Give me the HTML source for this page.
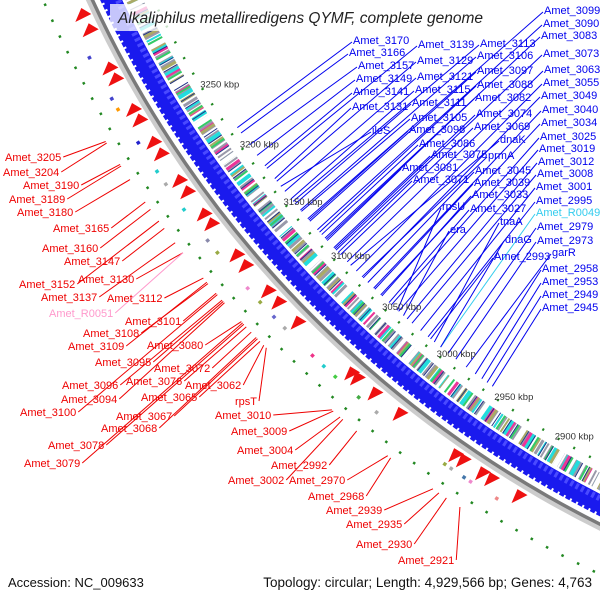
<!DOCTYPE html>
<html><head><meta charset="utf-8"><style>
html,body{margin:0;padding:0;background:#fff;width:600px;height:600px;overflow:hidden}
svg{display:block;overflow:hidden}
text{font-family:"Liberation Sans",sans-serif}
</style></head><body>
<svg id="map" width="600" height="600" viewBox="0 0 600 600" xmlns="http://www.w3.org/2000/svg">
<g id="rings"></g>
<g id="marks"></g>
<g id="lines"></g>
<g id="labels"></g>
<g id="ticks"></g>
<rect x="110" y="4" width="380" height="27" fill="#fff" fill-opacity="0.75"/>
<text x="118" y="23" font-size="15.5" font-style="italic" fill="#222">Alkaliphilus metalliredigens QYMF, complete genome</text>
<text x="8" y="587" font-size="13" fill="#111">Accession: NC_009633</text>
<text x="592" y="587" font-size="13.5" fill="#111" text-anchor="end">Topology: circular; Length: 4,929,566 bp; Genes: 4,763</text>
</svg>
<script>
// ---- data ----
const tickKbp = [3250,3200,3150,3100,3050,3000,2950,2900];
const redArrowKbp = [3327,3316,3288,3280,3257,3249,3232,3223,3202,3193,3175,3167,3141,3132,3110,3100,3082,3034,3029,3014,2993,2948,2942,2927,2920,2899];
const outerBarKbp = [3300,3270,3262,3237,3215,3205,3185,3160,3150,3120,3108,3095,3085,3060,3050,3040,3020,3005,2950,2945,2935,2930,2910];
const outerBarColor = ["#4444cc","#4444cc","#ff9900","#2222cc","#22cccc","#aaaaaa","#22cccc","#8888aa","#99aa44","#ee88cc","#99aa44","#6666cc","#aaaaaa","#ee3388","#22cccc","#44cc44","#44aa44","#aaaaaa","#99aa44","#aaaaaa","#4477aa","#ee88cc","#ee8888"];
const blueNames = ["Amet_3099","Amet_3090","Amet_3083","Amet_3073","Amet_3063","Amet_3055","Amet_3049","Amet_3040","Amet_3034","Amet_3025","Amet_3019","Amet_3012","Amet_3008","Amet_3001","Amet_2995","Amet_R0049","Amet_2979","Amet_2973","garR","Amet_2958","Amet_2953","Amet_2949","Amet_2945",
"Amet_3113","Amet_3106","Amet_3097","Amet_3088","Amet_3082","Amet_3074","Amet_3069","dnaK","prmA","Amet_3045","Amet_3039","Amet_3033","Amet_3027","tnaA","dnaG","Amet_2993",
"Amet_3139","Amet_3129","Amet_3121","Amet_3115","Amet_3111","Amet_3105","Amet_3098","Amet_3086","Amet_3075","Amet_3081","Amet_3071","rpsU","era","ileS",
"Amet_3170","Amet_3166","Amet_3157","Amet_3149","Amet_3141","Amet_3131"];
const blueGeneNo = [3099,3090,3083,3073,3063,3055,3049,3040,3034,3025,3019,3012,3008,3001,2995,2985,2979,2973,2965,2958,2953,2949,2945,
3113,3106,3097,3088,3082,3074,3069,3060,3050,3045,3039,3033,3027,2990,2985,2993,
3139,3129,3121,3115,3111,3105,3098,3086,3075,3081,3071,3020,3015,3125,
3170,3166,3157,3149,3141,3131];
const redNames = ["Amet_3205","Amet_3204","Amet_3190","Amet_3189","Amet_3180","Amet_3165","Amet_3160","Amet_3147","Amet_3152","Amet_3130","Amet_3137","Amet_3112","Amet_R0051","Amet_3101","Amet_3108","Amet_3109","Amet_3080","Amet_3095","Amet_3072","Amet_3096","Amet_3076","Amet_3062","Amet_3094","Amet_3065","rpsT","Amet_3100","Amet_3010","Amet_3067","Amet_3068","Amet_3009","Amet_3078","Amet_3004","Amet_3079","Amet_2992","Amet_3002","Amet_2970","Amet_2968","Amet_2939","Amet_2935","Amet_2930","Amet_2921"];
const redGeneNo = [3205,3204,3190,3189,3180,3165,3160,3147,3152,3130,3137,3112,3130,3101,3108,3109,3080,3095,3072,3096,3076,3062,3094,3065,3060,3100,3010,3067,3068,3009,3078,3004,3079,2992,3002,2970,2968,2939,2935,2930,2921];
// ---- layout (label anchor positions) ----
const blueLX = [544,543,541,543,544,543,541,542,541,540,539,538,537,536,536,536,537,537,552,542,542,542,542, 480,477,477,477,475,476,474,500,488,475,474,472,470,500,505,494, 418,417,417,415,412,411,409,419,431,402,413,442,450,372, 353,349,358,356,353,352];
const blueLY = [14,27,39,57,73,86,99,113,126,140,152,165,177,190,204,216,230,244,256,272,285,298,311, 47,59,74,88,101,117,130,143,159,174,186,198,212,225,243,260, 48,64,80,93,106,121,133,147,158,171,183,210,233,134, 44,56,69,82,95,110];
const redLX = [5,3,23,9,17,53,42,64,19,78,41,107,49,125,83,68,147,95,154,62,126,185,61,141,235,20,215,116,101,231,48,237,24,271,228,289,308,326,346,356,398];
const redLY = [161,176,189,203,216,232,252,265,288,283,301,302,317,325,337,350,349,366,372,389,385,389,403,401,405,416,419,420,432,435,449,454,467,469,484,484,500,514,528,548,564];

// ---- axis functions ----
const CX=1094, CY=-462;
function angOfKbp(k){return (121+(k-2900)*0.0789)*Math.PI/180;}
function angOfGene(n){return (123.2+(n-2921)*0.0894)*Math.PI/180;}
function pt(a,r){return [CX+r*Math.cos(a), CY+r*Math.sin(a)];}
const NS="http://www.w3.org/2000/svg";
function mk(tag,attrs,parent){const e=document.createElementNS(NS,tag);for(const k in attrs)e.setAttribute(k,attrs[k]);parent.appendChild(e);return e;}
const rings=document.getElementById('rings'), marks=document.getElementById('marks'), lines=document.getElementById('lines'), labels=document.getElementById('labels'), ticks=document.getElementById('ticks');

function ring(r,stroke,w,dash,off,name){
  // arc limited to the visible sector
  let a1=158*Math.PI/180;
  let a0=Math.max(Math.acos(Math.min(1,(596-CY)/r)) , 0); // angle where y hits ~596
  // a0 from sin: y=CY+r*sin(a) <= 596 -> choose angle > 90deg branch
  const s=(592-CY)/r;
  a0 = s>=1 ? 100*Math.PI/180 : Math.PI - Math.asin(s);
  const [x0,y0]=pt(a0,r), [x1,y1]=pt(a1,r);
  const c=mk('path',{d:`M${x0},${y0} A${r},${r} 0 0 1 ${x1},${y1}`,fill:'none',stroke:stroke,'stroke-width':w},rings);
  if(dash){c.setAttribute('stroke-dasharray',dash);c.setAttribute('stroke-dashoffset',off||0);}
  
  
}
// inner colored gene band
ring(1065,'#9999aa',16,'3 2 2 4',0,'gene-band-gray');
ring(1065,'#22dddd',16,'4 9 2 11',3,'gene-band-cyan');
ring(1065,'#ee3399',16,'3 17 2 23',7,'gene-band-pink');
ring(1065,'#aaaa66',16,'2 13 3 19',11,'gene-band-olive');
ring(1065,'#33cc66',16,'2 21 2 15',5,'gene-band-green');
ring(1065,'#223388',16,'1 7 1 12',2,'gene-band-navy');
ring(1065,'#fff',17,'5 40',0,'gene-band-gaps');
// blue arrow band
ring(1086,'#1a1aee',20,null,0,'blue-arrow-band');
ring(1080,'#4a4aff',6,'3 3',0,'blue-arrow-texture');
ring(1095,'#fff',3,'2 5',1,'blue-arrow-edge');
// backbone
ring(1106,'#cccccc',6,null,0,'backbone-shadow');
ring(1103,'#7a7a7a',3.5,null,0,'backbone-line');
// green dot tracks
ring(1048,'#228822',2.5,'2 16',0,'inner-green-track');
ring(1148,'#228822',2.5,'2.5 15',4,'outer-green-track');

// red arrows
redArrowKbp.forEach((k,i)=>{
  const a=angOfKbp(k); const [x,y]=pt(a,1118);
  const p=mk('polygon',{points:`${x-8},${y+6} ${x+8},${y-2} ${x-2},${y-8}`,fill:'#ee1111'},marks);
  
  
});
// outer bars
outerBarKbp.forEach((k,i)=>{
  const a=angOfKbp(k); const a2=a+0.003;
  const [x1,y1]=pt(a,1131), [x2,y2]=pt(a2,1131);
  const l=mk('line',{x1:x1,y1:y1,x2:x2,y2:y2,stroke:outerBarColor[i],'stroke-width':3.5},marks);
  
  
});
// ticks
tickKbp.forEach(k=>{
  const [x,y]=pt(angOfKbp(k),1047);
  const t=mk('text',{x:x,y:y+4,'font-size':9.5,fill:'#333'},ticks);
  t.textContent=k+' kbp';
  
  
});
// blue labels
blueNames.forEach((n,i)=>{
  const col = n==='Amet_R0049' ? '#33ccee' : '#0000ee';
  const t=mk('text',{x:blueLX[i],y:blueLY[i],'font-size':11,fill:col},labels);
  t.textContent=n;
  
  
  const [x,y]=pt(angOfGene(blueGeneNo[i]),1040);
  const l=mk('line',{x1:blueLX[i]-1,y1:blueLY[i]-2,x2:x,y2:y,stroke:col,'stroke-width':1},lines);
  
  
});
// red labels
redNames.forEach((n,i)=>{
  const col = n==='Amet_R0051' ? '#ff99cc' : '#ee0000';
  const t=mk('text',{x:redLX[i],y:redLY[i],'font-size':11,fill:col},labels);
  t.textContent=n;
  
  
  const w=t.getComputedTextLength();
  const [x,y]=pt(angOfGene(redGeneNo[i]),1158);
  const l=mk('line',{x1:redLX[i]+w+2,y1:redLY[i]-4,x2:x,y2:y,stroke:col,'stroke-width':1},lines);
  
  
});
</script>
</body></html>
